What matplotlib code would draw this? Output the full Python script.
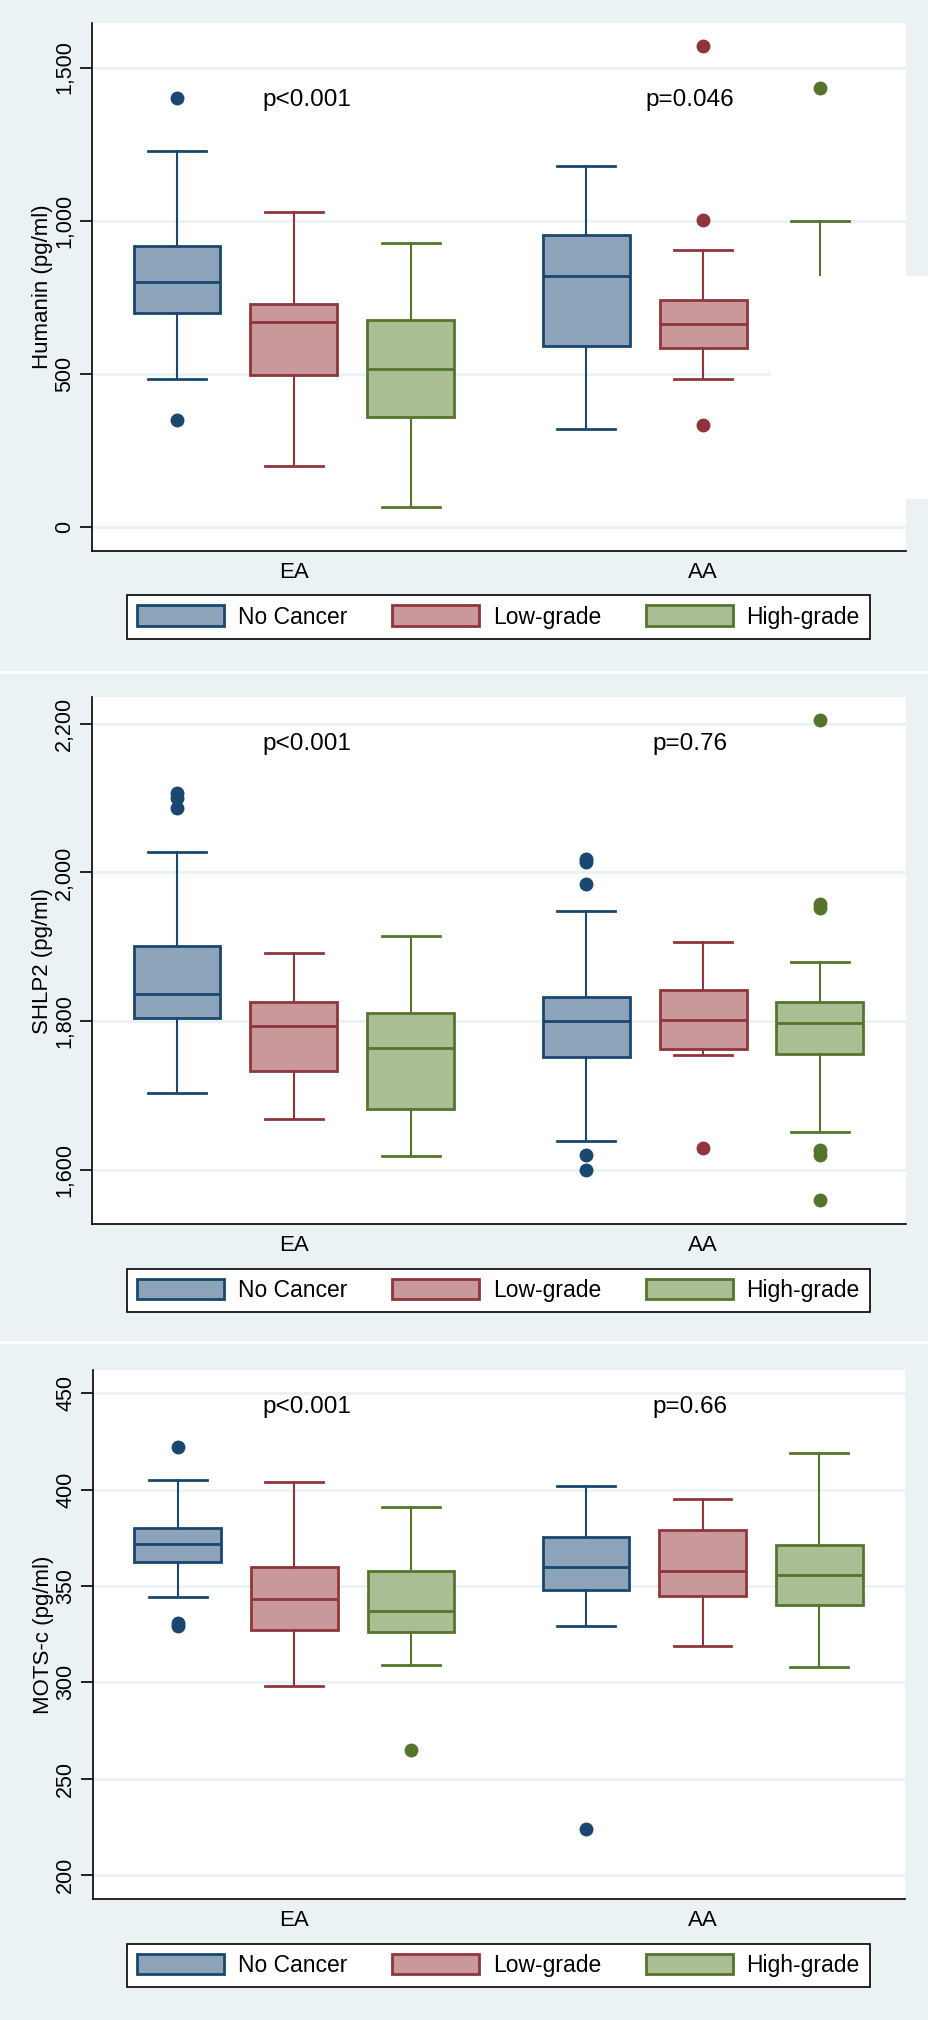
import matplotlib
matplotlib.use("Agg")
import matplotlib.pyplot as plt
from matplotlib.patches import Patch, Rectangle
from matplotlib.lines import Line2D
from matplotlib.ticker import FuncFormatter

plt.rcParams['font.family'] = ['Liberation Sans', 'DejaVu Sans']

# ---- data ----
groups = ["No Cancer", "Low-grade", "High-grade"]
races = ["EA", "AA"]

# order: EA NoCancer, EA Low, EA High, AA NoCancer, AA Low, AA High
hum_whislo = [483, 198, 64, 319, 484, 420]
hum_q1 = [698, 497, 358, 591, 584, 600]
hum_med = [799, 669, 517, 819, 663, 700]
hum_q3 = [916, 727, 676, 952, 741, 780]
hum_whishi = [1229, 1030, 926, 1180, 904, 1000]
hum_fliers = [[1401, 351], [], [], [], [1569, 1001, 334], [1432]]
hum_p = ["p<0.001", "p=0.046"]

sh_whislo = [1703, 1668, 1619, 1639, 1754, 1651]
sh_q1 = [1804, 1733, 1682, 1752, 1763, 1756]
sh_med = [1836, 1794, 1764, 1800, 1801, 1798]
sh_q3 = [1901, 1825, 1811, 1832, 1842, 1826]
sh_whishi = [2027, 1891, 1915, 1948, 1906, 1880]
sh_fliers = [[2107, 2100, 2086], [], [], [2018, 2014, 1985, 1620, 1599], [1629],
             [2205, 1957, 1952, 1626, 1620, 1559]]
sh_p = ["p<0.001", "p=0.76"]

mo_whislo = [344.5, 298, 309, 329, 319, 308]
mo_q1 = [362.6, 327, 326, 348, 345, 340]
mo_med = [372, 343, 337, 360, 358, 355.7]
mo_q3 = [380, 360, 358, 375.6, 379, 371.5]
mo_whishi = [405, 404, 391, 401.6, 395, 419]
mo_fliers = [[422, 331, 329], [], [265], [224], [], []]
mo_p = ["p<0.001", "p=0.66"]

# ---- style ----
BG = "#EAF2F3"
EDGE = ["#1A476F", "#90353B", "#55752F"]
FILL = ["#8DA3B9", "#C8989B", "#AABD93"]
POS = [0, 1, 2, 3.5, 4.5, 5.5]
W, H = 929, 2020

fig = plt.figure(figsize=(W / 100, H / 100), dpi=100, facecolor=BG)


def px_axes(x0, y0, x1, y1):
    return fig.add_axes([x0 / W, 1 - y1 / H, (x1 - x0) / W, (y1 - y0) / H])


panels = [
    dict(box=(92, 22.5, 906, 551), leg_y=617, ylabel="Humanin (pg/ml)",
         lo=hum_whislo, q1=hum_q1, med=hum_med, q3=hum_q3, hi=hum_whishi,
         fl=hum_fliers, p=hum_p, p_y=1395, ylim=(-78, 1647),
         ticks=[0, 500, 1000, 1500]),
    dict(box=(92, 697, 906, 1224), leg_y=1290.5, ylabel="SHLP2 (pg/ml)",
         lo=sh_whislo, q1=sh_q1, med=sh_med, q3=sh_q3, hi=sh_whishi,
         fl=sh_fliers, p=sh_p, p_y=2173, ylim=(1527, 2236),
         ticks=[1600, 1800, 2000, 2200]),
    dict(box=(93, 1370, 905, 1899), leg_y=1965.5, ylabel="MOTS-c (pg/ml)",
         lo=mo_whislo, q1=mo_q1, med=mo_med, q3=mo_q3, hi=mo_whishi,
         fl=mo_fliers, p=mo_p, p_y=442.7, ylim=(187.7, 462),
         ticks=[200, 250, 300, 350, 400, 450]),
]

for pn in panels:
    ax = px_axes(*pn["box"])
    ax.set_facecolor("white")
    stats = []
    for i in range(6):
        stats.append(dict(whislo=pn["lo"][i], q1=pn["q1"][i], med=pn["med"][i],
                          q3=pn["q3"][i], whishi=pn["hi"][i], fliers=pn["fl"][i]))
    bp = ax.bxp(stats, positions=POS, widths=0.744, capwidths=0.496,
                patch_artist=True, showfliers=True)
    for i in range(6):
        c = i % 3
        bp["boxes"][i].set(facecolor=FILL[c], edgecolor=EDGE[c], linewidth=2)
        bp["medians"][i].set(color=EDGE[c], linewidth=2)
        for w in bp["whiskers"][2 * i:2 * i + 2]:
            w.set(color=EDGE[c], linewidth=1.5)
        for cp in bp["caps"][2 * i:2 * i + 2]:
            cp.set(color=EDGE[c], linewidth=2)
        bp["fliers"][i].set(marker="o", markersize=9, markerfacecolor=EDGE[c],
                            markeredgecolor=EDGE[c])

    ax.set_xlim(-0.727, 6.236)
    ax.set_ylim(*pn["ylim"])
    ax.set_yticks(pn["ticks"])
    ax.yaxis.set_major_formatter(FuncFormatter(lambda v, _: f"{int(v):,}"))
    ax.tick_params(axis="y", length=9, width=1.2, pad=3, labelsize=15.5,
                   labelrotation=90)
    for lab in ax.get_yticklabels():
        lab.set_va("center")
    ax.set_xticks([1, 4.5])
    ax.set_xticklabels(races)
    ax.tick_params(axis="x", length=0, pad=8, labelsize=16)
    ax.yaxis.grid(True, color=BG, linewidth=2)
    ax.set_axisbelow(True)
    for s in ["top", "right"]:
        ax.spines[s].set_visible(False)
    for s in ["left", "bottom"]:
        ax.spines[s].set_linewidth(1.2)
    ax.set_ylabel(pn["ylabel"], fontsize=16, va="center")
    ax.yaxis.set_label_coords(-0.061, 0.5)

    for x, txt in zip([1.11, 4.39], pn["p"]):
        ax.text(x, pn["p_y"], txt, ha="center", va="center", fontsize=17.5)

    handles = [Patch(facecolor=FILL[c], edgecolor=EDGE[c], linewidth=2) for c in range(3)]
    leg = fig.legend(handles, groups, loc="center",
                     bbox_to_anchor=(498.5 / W, 1 - pn["leg_y"] / H), ncol=3,
                     frameon=True, fancybox=False, edgecolor="black", framealpha=1,
                     fontsize=16.5, handlelength=3.8, handleheight=1.0,
                     handletextpad=0.6, columnspacing=1.95, borderpad=0.44)
    leg.get_frame().set_linewidth(1.2)

# white patch covering part of the first panel (as in the source image)
fig.add_artist(Rectangle((771 / W, 1 - 499 / H), (W - 771) / W, (499 - 276) / H,
                         transform=fig.transFigure, facecolor="white",
                         edgecolor="none", zorder=10))
# thin white separators between panels
for yy in [672, 1342]:
    fig.add_artist(Line2D([0, 1], [1 - yy / H] * 2, color="white", linewidth=2,
                          transform=fig.transFigure))

fig.savefig("out.png", dpi=100, facecolor=BG)
